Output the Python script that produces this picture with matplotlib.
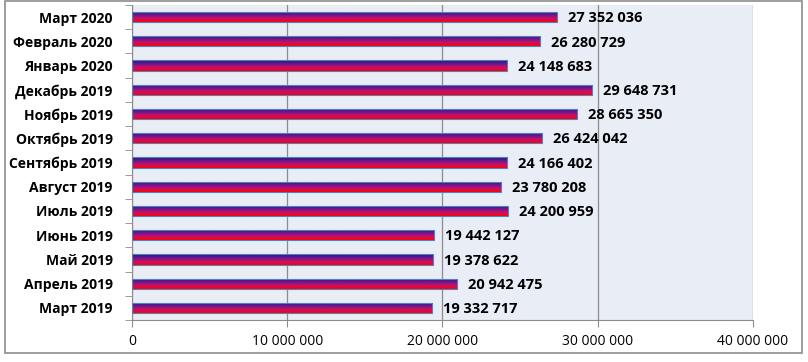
import numpy as np
import matplotlib
matplotlib.use("Agg")
import matplotlib.pyplot as plt
from matplotlib.colors import LinearSegmentedColormap
from matplotlib.patches import Rectangle
from matplotlib.ticker import FuncFormatter, MultipleLocator

# --- данные ---
months = ["Март 2019", "Апрель 2019", "Май 2019", "Июнь 2019", "Июль 2019",
          "Август 2019", "Сентябрь 2019", "Октябрь 2019", "Ноябрь 2019",
          "Декабрь 2019", "Январь 2020", "Февраль 2020", "Март 2020"]
values = [19332717, 20942475, 19378622, 19442127, 24200959,
          23780208, 24166402, 26424042, 28665350,
          29648731, 24148683, 26280729, 27352036]

plt.rcParams['font.family'] = ['Open Sans', 'DejaVu Sans']


def fmt_space(v, pos=None):
    return f"{int(v):,}".replace(",", " ")


fig = plt.figure(figsize=(8.08, 3.62), dpi=100)
# рамка вокруг области диаграммы
fig.patches.append(Rectangle((5 / 808, 9 / 362), 797 / 808, 352 / 362,
                             transform=fig.transFigure, fill=False,
                             edgecolor='#8c8c8c', linewidth=1.2))
ax = fig.add_axes([132 / 808, 42 / 362, 621 / 808, 315 / 362])
ax.set_facecolor('#e9edf6')

y = np.arange(len(months))
bars = ax.barh(y, values, height=0.42, color='none',
               edgecolor='#4f81bd', linewidth=0.8, zorder=3)

# градиент сверху вниз: тёмно-синий -> фиолетовый -> красный
cmap = LinearSegmentedColormap.from_list(
    "grad", ["#18187a", "#6a1890", "#c8106a", "#ff0000"])
grad = np.linspace(0, 1, 64).reshape(-1, 1)
for b in bars:
    x0, y0 = b.get_x(), b.get_y()
    w, h = b.get_width(), b.get_height()
    im = ax.imshow(grad, cmap=cmap, aspect='auto',
                   extent=(x0, x0 + w, y0, y0 + h), origin='upper', zorder=2)
    im.set_clip_path(b)

for yi, v in zip(y, values):
    ax.text(v + 700000, yi - 0.05, fmt_space(v), va='center', ha='left',
            fontsize=10.5, fontweight='bold', color='black', zorder=4)

ax.set_xlim(0, 40000000)
ax.set_ylim(-0.5, len(months) - 0.5)
ax.xaxis.set_major_locator(MultipleLocator(10000000))
ax.xaxis.set_major_formatter(FuncFormatter(fmt_space))
ax.set_yticks(y)
ax.set_yticklabels(months, fontsize=10, fontweight='bold')
ax.set_yticks(np.arange(-0.5, len(months), 1), minor=True)
ax.tick_params(axis='y', which='major', length=0, pad=14)
ax.tick_params(axis='y', which='minor', length=5, color='#8c8c8c')
ax.tick_params(axis='x', length=5, color='#8c8c8c', labelsize=10, pad=5)

ax.grid(axis='x', color='#8c8c8c', linewidth=0.9, zorder=1)
ax.set_axisbelow(True)
for side in ['top', 'right']:
    ax.spines[side].set_visible(False)
ax.spines['left'].set_color('#8c8c8c')
ax.spines['bottom'].set_color('#8c8c8c')

fig.savefig("out.png", dpi=100)
